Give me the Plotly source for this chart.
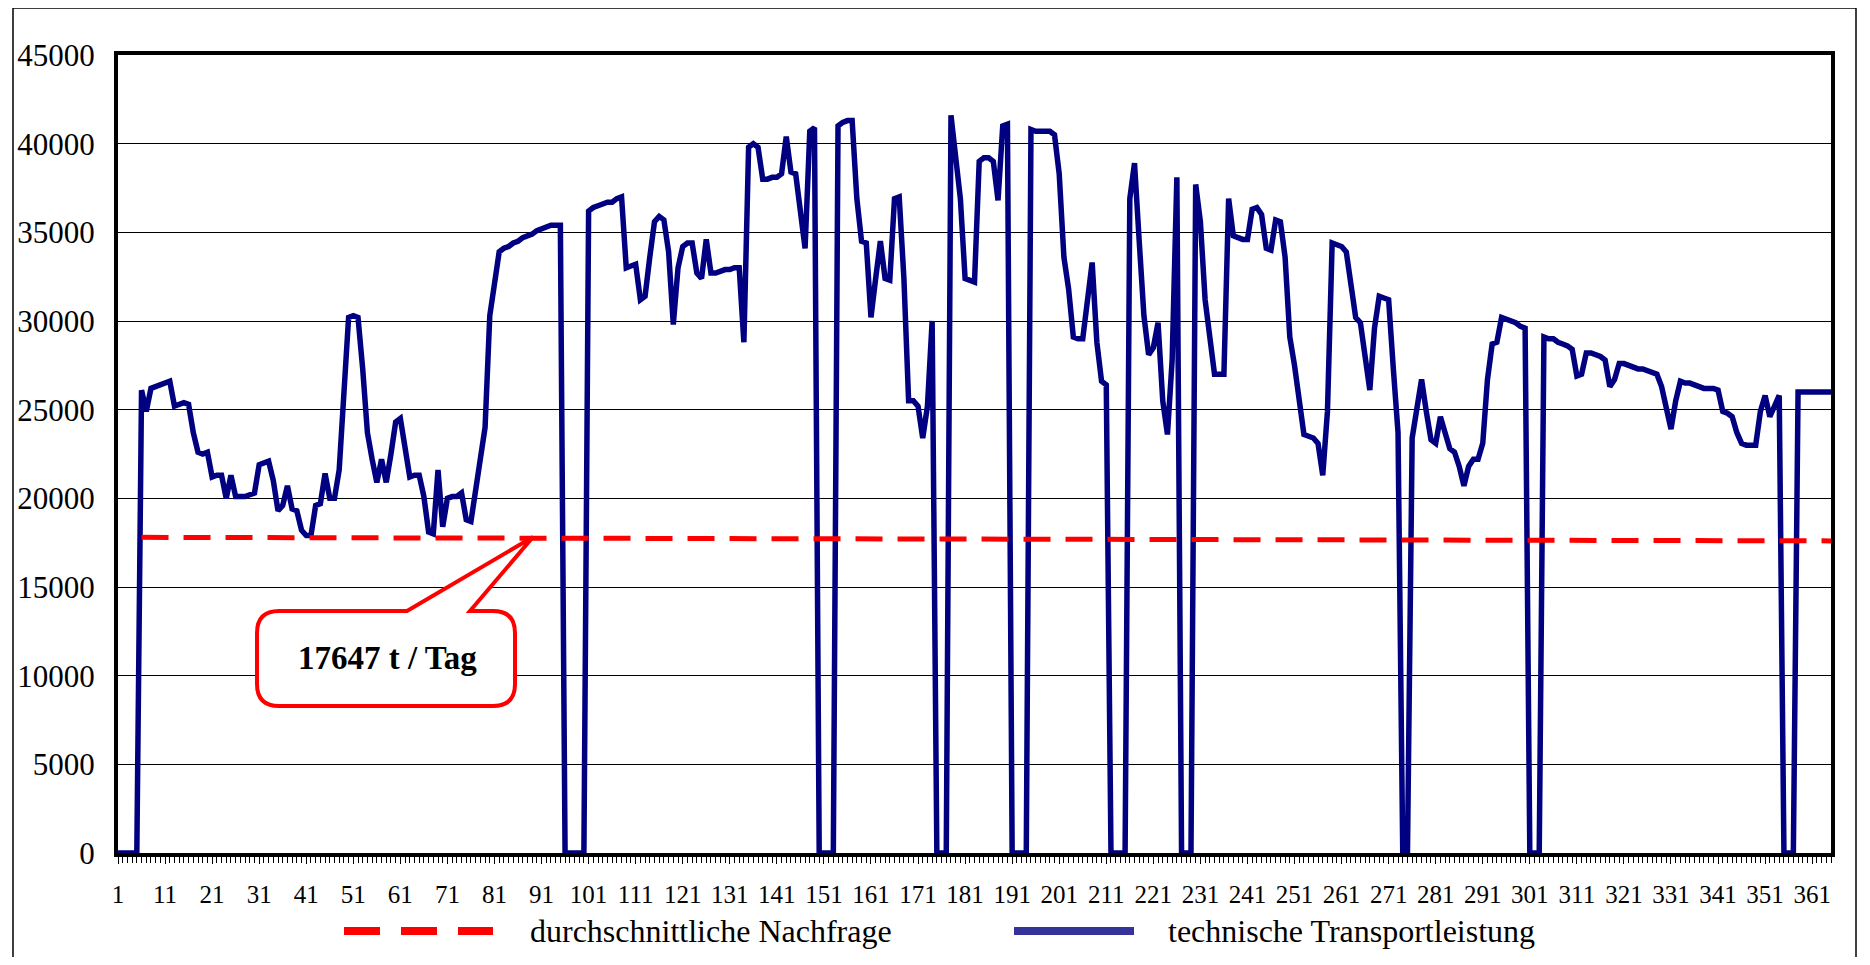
import plotly.graph_objects as go

# ---------------- data ----------------
days = list(range(1, 366))

transport = [
    0, 0, 0, 0, 0, 26100, 24900, 26200, 26300, 26400,
    26500, 26600, 25200, 25300, 25400, 25300, 23700, 22600, 22500, 22600,
    21200, 21300, 21300, 20000, 21300, 20100, 20100, 20100, 20200, 20300,
    21900, 22000, 22100, 21000, 19300, 19600, 20700, 19400, 19300, 18200,
    17900, 17900, 19600, 19700, 21400, 20000, 20000, 21600, 25800, 30200,
    30300, 30200, 27300, 23700, 22200, 20900, 22200, 20900, 22500, 24300,
    24500, 22800, 21200, 21300, 21300, 20100, 18100, 18000, 21600, 18400,
    20000, 20100, 20100, 20300, 18800, 18700, 20400, 22200, 24000, 30300,
    32100, 33900, 34100, 34200, 34400, 34500, 34700, 34800, 34900, 35100,
    35200, 35300, 35400, 35400, 35400, 0, 0, 0, 0, 0,
    36200, 36400, 36500, 36600, 36700, 36700, 36900, 37000, 33000, 33100,
    33200, 31200, 31400, 33600, 35600, 35900, 35700, 33900, 29800, 33000,
    34200, 34400, 34400, 32700, 32400, 34600, 32700, 32700, 32800, 32900,
    32900, 33000, 33000, 28800, 39800, 40000, 39800, 38000, 38000, 38100,
    38100, 38300, 40400, 38400, 38300, 36300, 34100, 40700, 40900, 0,
    0, 0, 0, 41000, 41200, 41300, 41300, 36900, 34500, 34400,
    30200, 32400, 34500, 32400, 32300, 36900, 37000, 32400, 25500, 25500,
    25200, 23400, 25200, 30000, 0, 0, 0, 41600, 39200, 36900,
    32400, 32300, 32200, 39000, 39200, 39200, 39000, 36800, 41000, 41100,
    0, 0, 0, 0, 40800, 40700, 40700, 40700, 40700, 40500,
    38300, 33600, 31800, 29100, 29000, 29000, 31200, 33300, 28800, 26600,
    26400, 0, 0, 0, 0, 36900, 38900, 34500, 30300, 28100,
    28500, 29900, 25500, 23600, 27800, 38100, 0, 0, 0, 37700,
    35600, 31200, 29100, 27000, 27000, 27000, 36900, 34800, 34700, 34600,
    34600, 36300, 36400, 36000, 34100, 34000, 35700, 35600, 33600, 29100,
    27500, 25500, 23600, 23500, 23400, 23100, 21300, 24900, 34400, 34300,
    34200, 33900, 32100, 30200, 29900, 27900, 26100, 29600, 31400, 31300,
    31200, 27300, 23700, 0, 0, 23400, 24900, 26700, 24900, 23300,
    23100, 24600, 23700, 22800, 22600, 21800, 20700, 21800, 22200, 22200,
    23100, 26700, 28700, 28800, 30200, 30100, 30000, 29900, 29700, 29600,
    0, 0, 0, 29100, 29000, 29000, 28800, 28700, 28600, 28400,
    26900, 27000, 28200, 28200, 28100, 28000, 27800, 26300, 26700, 27600,
    27600, 27500, 27400, 27300, 27300, 27200, 27100, 27000, 26300, 24900,
    23900, 25500, 26600, 26500, 26500, 26400, 26300, 26200, 26200, 26200,
    26100, 24900, 24800, 24600, 23700, 23100, 23000, 23000, 23000, 24900,
    25800, 24600, 25200, 25800, 0, 0, 0, 26000, 26000, 26000,
    26000, 26000, 26000, 26000, 26000,
]

demand_days = [6, 365]
demand_values = [17800, 17600]

x_tick_vals = [1, 11, 21, 31, 41, 51, 61, 71, 81, 91, 101, 111, 121, 131, 141,
               151, 161, 171, 181, 191, 201, 211, 221, 231, 241, 251, 261, 271,
               281, 291, 301, 311, 321, 331, 341, 351, 361]
x_tick_labels = ["1", "11", "21", "31", "41", "51", "61", "71", "81", "91",
                 "101", "111", "121", "131", "141", "151", "161", "171", "181",
                 "191", "201", "211", "221", "231", "241", "251", "261", "271",
                 "281", "291", "301", "311", "321", "331", "341", "351", "361"]
y_tick_vals = [0, 5000, 10000, 15000, 20000, 25000, 30000, 35000, 40000, 45000]
y_tick_labels = ["0", "5000", "10000", "15000", "20000", "25000", "30000",
                 "35000", "40000", "45000"]

series_names = ["durchschnittliche Nachfrage", "technische Transportleistung"]
callout_text = "17647 t / Tag"

# ---------------- layout helpers (page pixel -> paper) ----------------
OFF = 8                      # default page body margin
W, H = 1870 - OFF, 965 - 2 * OFF
PL, PR, PT, PB = 118, 1831, 55, 853   # plot area in page pixels


def fx(x):
    return (x - PL) / (PR - PL)


def fy(y):
    return (PB - y) / (PB - PT)


FONT = "Liberation Serif"

fig = go.Figure()
fig.add_trace(go.Scatter(
    x=days, y=transport, mode="lines", name=series_names[1],
    line=dict(color="#000080", width=5.5), showlegend=False,
))
fig.add_trace(go.Scatter(
    x=demand_days, y=demand_values, mode="lines", name=series_names[0],
    line=dict(color="#FF0000", width=5, dash="27px,15px"), showlegend=False,
))

# callout path (rounded box with tail)
L_, R_, T_, B_, r = 257, 515, 611, 706, 22
tb1, tb2, tip = (407, T_), (470, T_), (533, 537)


def P(x, y):
    return f"{fx(x):.5f},{fy(y):.5f}"


path = (
    f"M {P(L_ + r, T_)} L {P(*tb1)} L {P(*tip)} L {P(*tb2)} L {P(R_ - r, T_)} "
    f"Q {P(R_, T_)} {P(R_, T_ + r)} L {P(R_, B_ - r)} Q {P(R_, B_)} {P(R_ - r, B_)} "
    f"L {P(L_ + r, B_)} Q {P(L_, B_)} {P(L_, B_ - r)} L {P(L_, T_ + r)} "
    f"Q {P(L_, T_)} {P(L_ + r, T_)} Z"
)

shapes = [
    # outer chart border
    dict(type="rect", xref="paper", yref="paper", x0=fx(13), x1=fx(1856),
         y0=fy(1010), y1=fy(8), line=dict(color="black", width=1.5),
         fillcolor="rgba(0,0,0,0)", layer="below"),
    # callout
    dict(type="path", xref="paper", yref="paper", path=path,
         fillcolor="white", line=dict(color="#FF0000", width=4), layer="above"),
    # legend samples
    dict(type="line", xref="paper", yref="paper", x0=fx(344), x1=fx(493),
         y0=fy(931), y1=fy(931), line=dict(color="#FF0000", width=8, dash="36px,21px")),
    dict(type="line", xref="paper", yref="paper", x0=fx(1014), x1=fx(1134),
         y0=fy(931), y1=fy(931), line=dict(color="#333399", width=8)),
]

annotations = [
    dict(xref="paper", yref="paper", x=fx(387), y=fy(658), text=f"<b>{callout_text}</b>",
         showarrow=False, font=dict(family=FONT, size=33, color="black"),
         xanchor="center", yanchor="middle"),
    dict(xref="paper", yref="paper", x=fx(528), y=fy(931), text=series_names[0],
         showarrow=False, font=dict(family=FONT, size=32, color="black"),
         xanchor="left", yanchor="middle"),
    dict(xref="paper", yref="paper", x=fx(1166), y=fy(931), text=series_names[1],
         showarrow=False, font=dict(family=FONT, size=32, color="black"),
         xanchor="left", yanchor="middle"),
]

fig.update_layout(
    width=W, height=H,
    margin=dict(l=PL - OFF, r=(OFF + W) - PR, t=PT - OFF, b=(OFF + H) - PB),
    paper_bgcolor="white", plot_bgcolor="white",
    font=dict(family=FONT, color="black"),
    showlegend=False,
    shapes=shapes, annotations=annotations,
)
fig.update_xaxes(
    automargin=False,
    range=[1, 365], tickmode="array", tickvals=x_tick_vals, ticktext=x_tick_labels,
    ticks="outside", ticklen=7, tickwidth=1, tickcolor="black",
    minor=dict(tickmode="linear", tick0=1, dtick=1, ticks="outside",
               ticklen=6, tickwidth=1, tickcolor="black"),
    showline=True, linewidth=4, linecolor="black", mirror=True,
    showgrid=False, zeroline=False,
    tickfont=dict(family=FONT, size=25, color="black"),
    ticklabelstandoff=9,
)
fig.update_yaxes(
    automargin=False,
    range=[0, 45000], tickmode="array", tickvals=y_tick_vals, ticktext=y_tick_labels,
    ticks="", showgrid=True, gridcolor="black", gridwidth=1,
    showline=True, linewidth=4, linecolor="black", mirror=True, zeroline=False,
    tickfont=dict(family=FONT, size=31, color="black"),
    ticklabelstandoff=13,
)

fig.write_html("out.html")
